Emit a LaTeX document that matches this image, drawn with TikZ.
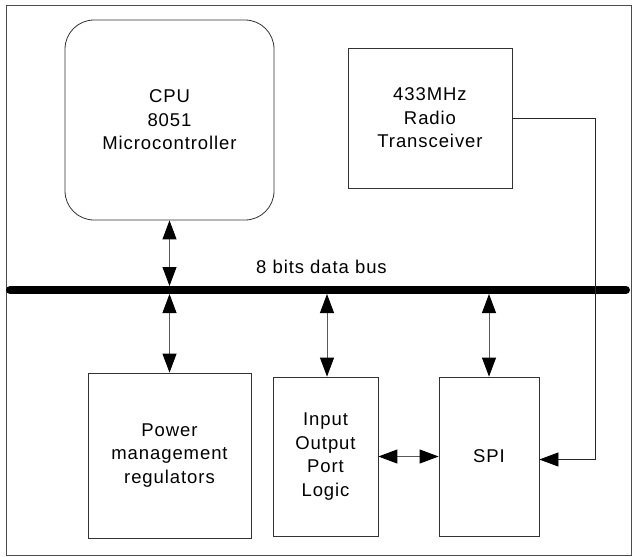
\documentclass[tikz,border=0pt]{standalone}
\usepackage{fontspec}
\setmainfont{Liberation Sans}[LetterSpace=5]
\usetikzlibrary{arrows.meta,calc}
\begin{document}
\begin{tikzpicture}[x=1pt,y=-1pt,
  >={Triangle[length=19pt,width=14pt,color=black]},
  block/.style={draw=black!80,line width=0.8pt,inner sep=0pt,align=center,
    font=\fontsize{18.5}{23.5}\selectfont},
  biarrow/.style={draw=black!65,line width=0.9pt,<->},
  link/.style={draw=black!85,line width=0.8pt,->},
  buslabel/.style={font=\fontsize{18.5}{23.5}\selectfont,inner sep=0pt}]
  \useasboundingbox (0,0) rectangle (632,557);
  % outer frame
  \draw[black!70,line width=0.9pt] (6,5) rectangle (631,555);

  % blocks
  \node[block,rounded corners=29pt,minimum width=209pt,minimum height=200pt]
    (cpu) at (169.5,120) {CPU\\8051\\Microcontroller};
  \node[block,minimum width=164pt,minimum height=140pt]
    (radio) at (430,118) {433MHz\\Radio\\Transceiver};
  \node[block,minimum width=163pt,minimum height=165pt]
    (power) at (169.5,455.5) {Power\\management\\regulators};
  \node[block,minimum width=105pt,minimum height=159pt]
    (io) at (325.5,456.5) {Input\\Output\\Port\\Logic};
  \node[block,minimum width=100pt,minimum height=159pt]
    (spi) at (489,456.5) {SPI};

  % data bus
  \coordinate (busL) at (10,290);
  \coordinate (busR) at (626,290);
  \coordinate (busT) at (0,286);
  \coordinate (busB) at (0,294);
  \draw[line width=8pt,line cap=round] (busL) -- (busR);
  \node[buslabel,anchor=base] (buslbl) at (321.5,273) {8 bits data bus};

  % bus taps
  \draw[biarrow] (cpu.south) -- (cpu.south |- busT);
  \draw[biarrow] (power.north |- busB) -- (power.north);
  \draw[biarrow] ([xshift=1.5pt]io.north |- busB) -- ([xshift=1.5pt]io.north);
  \draw[biarrow] (spi.north |- busB) -- (spi.north);

  % side links
  \draw[biarrow] (io.east) -- (spi.west);
  \coordinate (turn) at (595,0);
  \draw[link] (radio.east) -| ([yshift=-3pt]turn |- spi.east) -- ([yshift=-3pt]spi.east);
\end{tikzpicture}
\end{document}
